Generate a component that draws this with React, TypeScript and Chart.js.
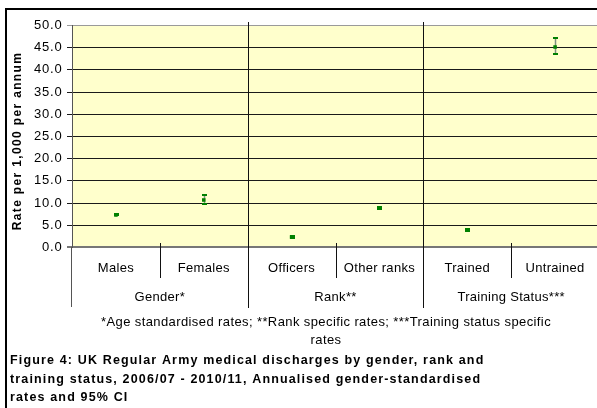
import { useEffect, useRef } from 'react';
import { Chart, registerables } from 'chart.js';

Chart.register(...registerables);

const categories = ['Males', 'Females', 'Officers', 'Other ranks', 'Trained', 'Untrained'];
const groups = ['Gender*', 'Rank**', 'Training Status***'];
const groupSizes = [2, 2, 2];
const rates = [7.3, 10.6, 2.3, 8.8, 3.8, 45.1];
const ciLower = [7.1, 9.6, 2.1, 8.5, 3.6, 43.5];
const ciUpper = [7.5, 11.6, 2.5, 9.1, 4.0, 47.1];
const yMin = 0;
const yMax = 50;
const yStep = 5;
const yAxisTitle = 'Rate per 1,000 per annum';
const footnoteLines = [
  '*Age standardised rates; **Rank specific rates; ***Training status specific',
  'rates',
];
const titleLines = [
  'Figure 4: UK Regular Army medical discharges by gender, rank and',
  'training status, 2006/07 - 2010/11, Annualised gender-standardised',
  'rates and 95% CI',
];

const FONT = '"Liberation Sans", Arial, sans-serif';
const CANVAS_W = 603;
const CANVAS_H = 408;

const decorPlugin = {
  id: 'decor',
  beforeDraw(chart: any) {
    const { ctx, chartArea, width, height } = chart;
    ctx.save();
    ctx.fillStyle = '#ffffff';
    ctx.fillRect(0, 0, width, height);
    ctx.fillStyle = '#FFFFCC';
    ctx.fillRect(chartArea.left, chartArea.top, chartArea.right - chartArea.left, chartArea.bottom - chartArea.top);
    ctx.restore();
    ctx.letterSpacing = '0.8px';
  },
  beforeDatasetsDraw(chart: any) {
    const { ctx } = chart;
    const xs = chart.scales.x;
    const ys = chart.scales.y;
    ctx.save();
    for (let i = 0; i < categories.length; i++) {
      const x = Math.round(xs.getPixelForValue(i)) + 0.5;
      const yt = ys.getPixelForValue(ciUpper[i]);
      const yb = ys.getPixelForValue(ciLower[i]);
      ctx.strokeStyle = '#7f8f7f';
      ctx.lineWidth = 1.5;
      ctx.beginPath();
      ctx.moveTo(x, yt);
      ctx.lineTo(x, yb);
      ctx.stroke();
      ctx.strokeStyle = '#008000';
      ctx.lineWidth = 2;
      ctx.beginPath();
      ctx.moveTo(x - 2.5, yt);
      ctx.lineTo(x + 2.5, yt);
      ctx.moveTo(x - 2.5, yb);
      ctx.lineTo(x + 2.5, yb);
      ctx.stroke();
    }
    ctx.restore();
  },
  afterDraw(chart: any) {
    const { ctx, chartArea } = chart;
    const xs = chart.scales.x;
    const left = chartArea.left;
    const right = chartArea.right;
    const top = chartArea.top;
    const bottom = chartArea.bottom;
    ctx.save();

    const bounds: number[] = [];
    for (let i = 0; i < categories.length - 1; i++) {
      bounds.push((xs.getPixelForValue(i) + xs.getPixelForValue(i + 1)) / 2);
    }

    ctx.strokeStyle = '#555555';
    ctx.lineWidth = 1;
    ctx.beginPath();
    ctx.moveTo(Math.round(left) - 0.5, bottom);
    ctx.lineTo(Math.round(left) - 0.5, bottom + 60);
    ctx.stroke();

    let idx = 0;
    const groupEdges: number[] = [left];
    for (let g = 0; g < groups.length; g++) {
      idx += groupSizes[g];
      groupEdges.push(idx - 1 < bounds.length ? bounds[idx - 1] : right);
    }
    ctx.strokeStyle = '#111111';
    for (let b = 0; b < bounds.length; b++) {
      const x = Math.round(bounds[b]) + 0.5;
      const isGroup = groupEdges.some((e) => Math.abs(e - bounds[b]) < 0.01);
      ctx.beginPath();
      if (isGroup) {
        ctx.moveTo(x, top - 3);
        ctx.lineTo(x, bottom + 61);
      } else {
        ctx.moveTo(x, bottom - 4);
        ctx.lineTo(x, bottom + 31);
      }
      ctx.stroke();
    }

    ctx.fillStyle = '#000000';
    ctx.font = `13px ${FONT}`;
    ctx.letterSpacing = '0.3px';
    ctx.textAlign = 'center';
    ctx.textBaseline = 'middle';
    for (let i = 0; i < categories.length; i++) {
      ctx.fillText(categories[i], xs.getPixelForValue(i), bottom + 21);
    }
    for (let g = 0; g < groups.length; g++) {
      ctx.fillText(groups[g], (groupEdges[g] + groupEdges[g + 1]) / 2, bottom + 50);
    }

    ctx.font = `13px ${FONT}`;
    ctx.letterSpacing = '0.4px';
    ctx.fillText(footnoteLines[0], 326, 322);
    ctx.fillText(footnoteLines[1], 326, 340);

    ctx.font = `bold 12.5px ${FONT}`;
    ctx.letterSpacing = '1.15px';
    ctx.textAlign = 'left';
    for (let i = 0; i < titleLines.length; i++) {
      ctx.fillText(titleLines[i], 10, 361 + i * 18.5);
    }

    ctx.save();
    ctx.translate(18, 141);
    ctx.rotate(-Math.PI / 2);
    ctx.textAlign = 'center';
    ctx.font = `bold 12px ${FONT}`;
    ctx.letterSpacing = '1.35px';
    ctx.fillText(yAxisTitle, 0, 0);
    ctx.restore();

    ctx.strokeStyle = '#000000';
    ctx.lineWidth = 2;
    ctx.beginPath();
    ctx.moveTo(6, chart.height);
    ctx.lineTo(6, 9);
    ctx.lineTo(chart.width, 9);
    ctx.stroke();

    ctx.restore();
    ctx.letterSpacing = '0px';
  },
};

export default function App() {
  const ref = useRef<HTMLCanvasElement | null>(null);
  useEffect(() => {
    if (!ref.current) return;
    const chart = new Chart(ref.current, {
      type: 'line',
      data: {
        labels: categories,
        datasets: [
          {
            data: rates,
            showLine: false,
            pointStyle: 'rect',
            pointRadius: 2.5,
            pointBackgroundColor: '#008000',
            pointBorderColor: '#008000',
            pointBorderWidth: 0,
          },
        ],
      },
      options: {
        responsive: false,
        animation: false,
        devicePixelRatio: 1,
        layout: { padding: { top: 25, bottom: 161, left: 0, right: 0 } },
        plugins: { legend: { display: false }, tooltip: { enabled: false } },
        scales: {
          x: { type: 'category', display: false, offset: true },
          y: {
            min: yMin,
            max: yMax,
            alignToPixels: true,
            ticks: {
              stepSize: yStep,
              color: '#000000',
              padding: 4.5,
              font: { family: FONT, size: 13 },
              callback: (v: any) => Number(v).toFixed(1),
            },
            grid: {
              color: (c: any) => (c.tick && c.tick.value === yMax ? '#9a9a9a' : c.tick && c.tick.value === yMin ? '#777777' : '#1a1a1a'),
              lineWidth: (c: any) => (c.tick && c.tick.value === yMin ? 2 : 1),
              tickLength: 5,
              drawTicks: true,
            },
            border: { display: true, color: '#555555', width: 1 },
            afterFit: (s: any) => {
              s.width = 72;
            },
          },
        },
      },
      plugins: [decorPlugin],
    } as any);
    return () => chart.destroy();
  }, []);
  return (
    <div style={{ position: 'fixed', left: 0, top: 0, width: 597, height: 408, overflow: 'hidden' }}>
      <canvas ref={ref} width={CANVAS_W} height={CANVAS_H} style={{ display: 'block' }} />
    </div>
  );
}
